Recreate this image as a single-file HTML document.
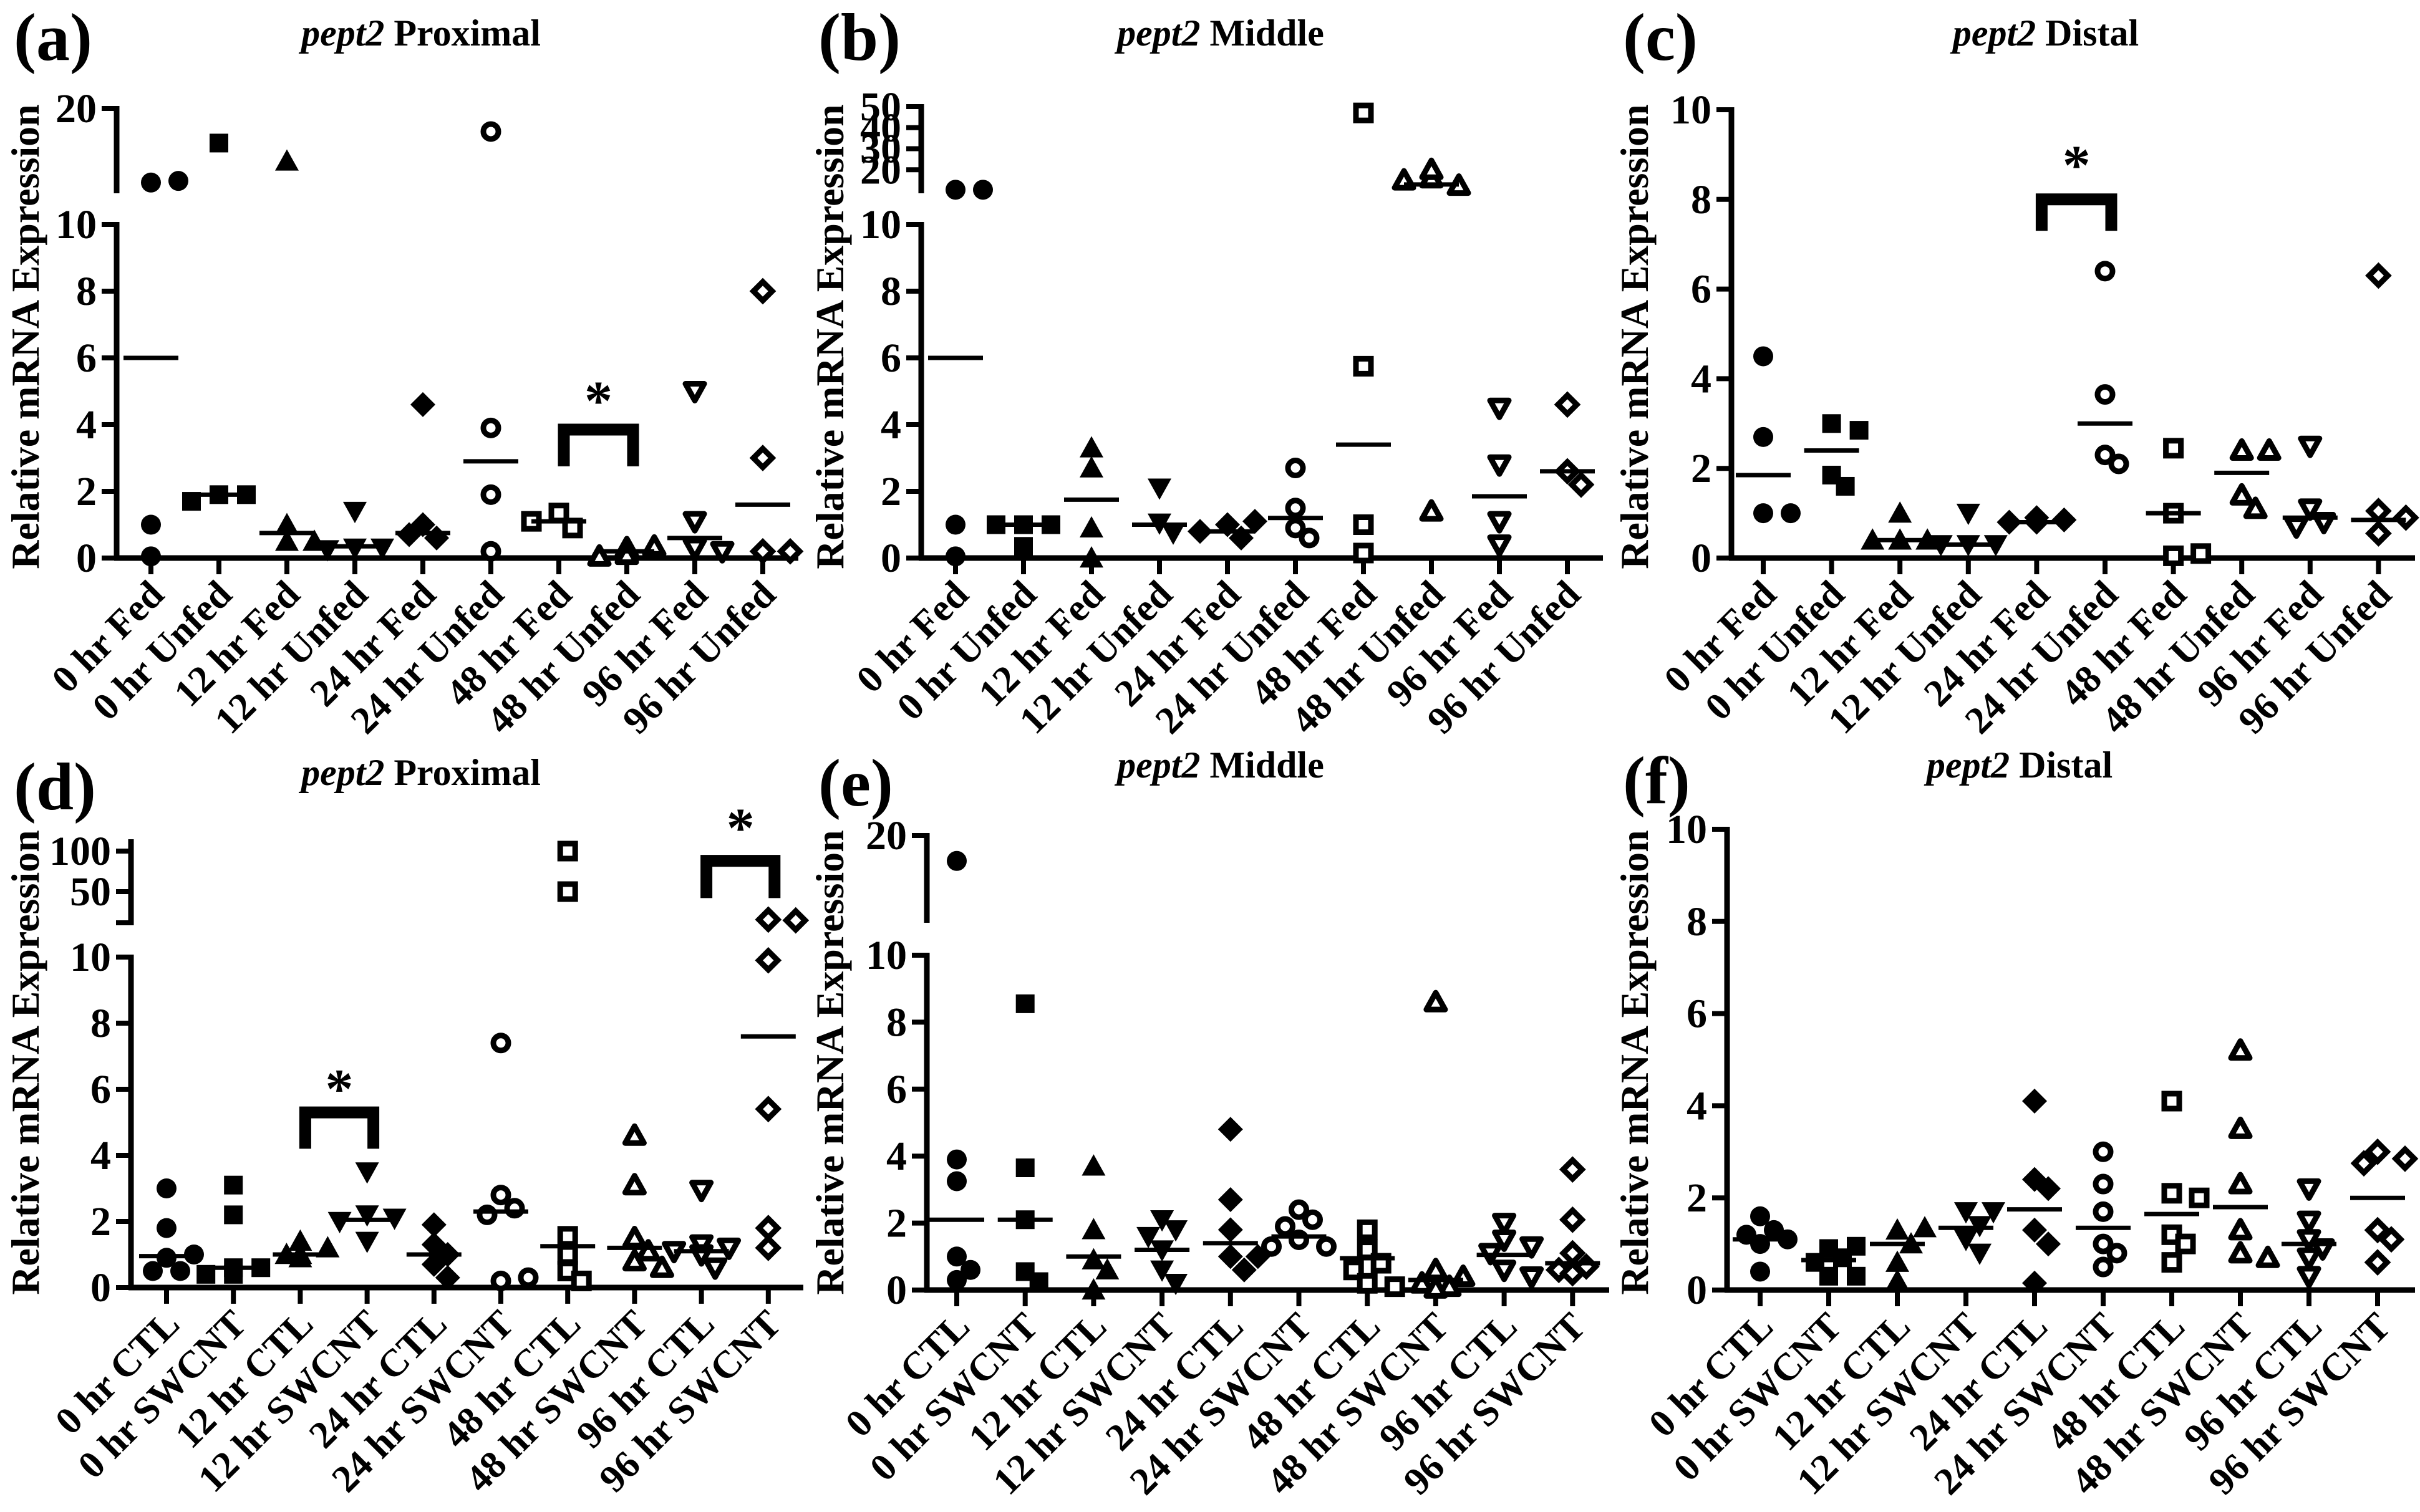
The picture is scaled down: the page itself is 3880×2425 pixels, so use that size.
<!DOCTYPE html>
<html><head><meta charset="utf-8">
<style>
html,body{margin:0;padding:0;background:#fff;}
svg{display:block;}
text{font-family:"Liberation Serif","Times New Roman",serif;font-weight:bold;fill:#000;}
</style></head>
<body>
<svg id="fig" xmlns="http://www.w3.org/2000/svg" width="3880" height="2425" viewBox="0 0 3880 2425"></svg>
<script>
// ---------- DATA ----------
const catsFed = ["0 hr Fed","0 hr Unfed","12 hr Fed","12 hr Unfed","24 hr Fed","24 hr Unfed","48 hr Fed","48 hr Unfed","96 hr Fed","96 hr Unfed"];
const catsSw = ["0 hr CTL","0 hr SWCNT","12 hr CTL","12 hr SWCNT","24 hr CTL","24 hr SWCNT","48 hr CTL","48 hr SWCNT","96 hr CTL","96 hr SWCNT"];
const lowerTicks = [0,2,4,6,8,10];

const aValues = [[11.0,11.2,1.0,0.05],[15.8,1.9,1.9,1.7],[13.6,1.0,0.5,0.5],[1.4,0.3,0.3,0.25],[4.6,1.0,0.6,0.7],[17.2,3.9,1.9,0.2],[1.35,0.9,1.1],[0.3,0.35,0.05,0.1],[5.0,1.1,0.3,0.2],[8.0,3.0,0.2,0.2]];
const aMeans = [6.0,1.9,0.75,0.35,0.75,2.9,1.1,0.2,0.6,1.6];
const aUpperTicks = [10,20];

const bValues = [[10.5,10.5,1.0,0.05],[1.0,1.0,1.0,0.35],[3.3,2.7,0.9,0.0],[2.1,1.05,0.75],[1.0,1.1,0.8,0.6],[2.7,1.5,0.9,0.6],[47,5.75,1.0,0.15],[16,12.5,15,20,1.4],[4.5,2.8,1.1,0.4],[4.6,2.6,2.2]];
const bMeans = [6.0,1.0,1.75,1.0,0.8,1.2,3.4,13,1.85,2.6];
const bUpperTicks = [10,20,30,40,50];

const cValues = [[4.5,2.7,1.0,1.0],[3.0,2.85,1.85,1.6],[1.0,0.4,0.4,0.4],[1.0,0.3,0.3,0.3],[0.9,0.85,0.8,0.8],[6.4,3.65,2.3,2.1],[2.45,1.0,0.05,0.1],[2.4,2.4,1.4,1.1],[2.5,1.1,0.8,0.7],[6.3,1.05,0.9,0.55]];
const cMeans = [1.85,2.4,0.4,0.3,0.8,3.0,1.0,1.9,0.9,0.85];

const dValues = [[3.0,1.8,0.9,1.0,0.5,0.5],[3.1,2.2,0.6,0.6,0.4,0.4],[1.4,1.2,1.0,1.0,0.9],[3.5,2.2,2.1,2.0,1.4],[1.9,1.3,1.0,0.7,0.3],[7.4,2.8,2.4,2.2,0.2,0.3],[100,50,1.55,1.0,0.5,0.2],[4.6,3.1,1.5,1.1,0.8,0.6],[2.95,1.3,1.2,1.1,1.0,0.6],[15.5,14.5,9.9,5.4,1.8,1.2]];
const dMeans = [0.95,0.6,1.0,2.05,1.0,2.3,1.25,1.2,1.1,7.6];
const dUpperTicks = [50,100];

const eValues = [[17,3.9,3.25,1.0,0.6,0.3],[8.55,3.65,2.1,0.55,0.25],[3.7,1.8,0.9,0.6,0.0],[2.1,1.8,1.6,1.2,0.6,0.2],[4.8,2.7,1.8,1.0,1.0,0.6],[2.4,2.1,1.9,1.5,1.3,1.3],[1.8,1.2,0.8,0.6,0.2,0.1],[8.6,0.6,0.4,0.2,0.1,0.05],[2.0,1.5,1.3,1.1,0.6,0.4],[3.6,2.1,1.1,0.7,0.6,0.5]];
const eMeans = [2.1,2.1,1.0,1.2,1.4,1.6,0.95,0.3,1.05,0.8];
const eUpperTicks = [10,20];

const fValues = [[1.6,1.3,1.2,1.1,1.0,0.4],[0.9,0.95,0.7,0.6,0.3,0.3],[1.3,1.35,1.0,0.6,0.2],[1.7,1.7,1.4,1.1,0.8],[4.1,2.4,2.2,1.3,1.0,0.15],[3.0,2.3,1.7,1.0,0.8,0.5],[4.1,2.1,2.0,1.2,1.0,0.6],[5.2,3.5,2.3,1.3,0.8,0.7],[2.2,1.5,1.1,0.9,0.7,0.3],[3.0,2.85,2.75,1.3,1.1,0.6]];
const fMeans = [1.1,0.65,1.0,1.35,1.75,1.35,1.65,1.8,1.0,2.0];

// significance brackets: [groupA, groupB, topValue, legValue, starValue]
const aSig = [[6,7,3.85,2.75,4.9]];
const cSig = [[4,5,8.0,7.3,8.9]];
const dSig = [[2,3,5.3,4.2,6.2],[8,9,88,42,136]];

const shapes = ["circle","square","triangle","tridown","diamond"];

// ---------- LAYOUT ----------
const panels = [
 {id:"a",letter:"(a)",title:"Proximal",ox:0,oy:0,ax:187,y0:895,y10:360,up:{v0:10,p0:306,v1:20,p1:174,top:174,bot:306,ticks:aUpperTicks},cat0:242,step:109,xEnd:1280,tx:675,ty:73,ly:96,yl:540,cats:catsFed,vals:aValues,means:aMeans,sig:aSig},
 {id:"b",letter:"(b)",title:"Middle",ox:1290,oy:0,ax:187,y0:895,y10:360,up:{v0:10,p0:306,v1:50,p1:171,top:171,bot:306,ticks:bUpperTicks},cat0:242,step:109,xEnd:1280,tx:667,ty:73,ly:96,yl:540,cats:catsFed,vals:bValues,means:bMeans,sig:[]},
 {id:"c",letter:"(c)",title:"Distal",ox:2580,oy:0,ax:196,y0:895,y10:176,up:null,cat0:247,step:109.6,xEnd:1292,tx:700,ty:73,ly:96,yl:540,cats:catsFed,vals:cValues,means:cMeans,sig:cSig},
 {id:"d",letter:"(d)",title:"Proximal",ox:0,oy:1200,ax:210,y0:865,y10:335,up:{v0:50,p0:230,v1:100,p1:165,top:150,bot:280,ticks:dUpperTicks},cat0:267,step:107.2,xEnd:1288,tx:675,ty:59,ly:98,yl:504,cats:catsSw,vals:dValues,means:dMeans,sig:dSig},
 {id:"e",letter:"(e)",title:"Middle",ox:1290,oy:1200,ax:196,y0:869,y10:332,up:{v0:10,p0:276,v1:20,p1:140,top:140,bot:276,ticks:eUpperTicks},cat0:244,step:109.7,xEnd:1290,tx:667,ty:47,ly:92,yl:504,cats:catsSw,vals:eValues,means:eMeans,sig:[]},
 {id:"f",letter:"(f)",title:"Distal",ox:2580,oy:1200,ax:189,y0:869,y10:130,up:null,cat0:242,step:110,xEnd:1292,tx:658,ty:47,ly:88,yl:504,cats:catsSw,vals:fValues,means:fMeans,sig:[]}
];

const NS="http://www.w3.org/2000/svg";
const svg=document.getElementById("fig");
function mk(tag,attrs,parent){const e=document.createElementNS(NS,tag);for(const k in attrs)e.setAttribute(k,attrs[k]);(parent||svg).appendChild(e);return e;}

function yScale(p,v){
  if(v<=10 || !p.up) return p.y0-(p.y0-p.y10)*v/10;
  const u=p.up; return u.p0+(v-u.v0)*(u.p1-u.p0)/(u.v1-u.v0);
}
function xScale(p,i){return p.cat0+i*p.step;}

function marker(g,shape,filled,x,y){
  const sw=filled?0:9, fill=filled?"#000":"#fff", st="#000";
  let el;
  if(shape==="circle"){el=mk("circle",{cx:x,cy:y,r:filled?16:12,fill:fill,stroke:st,"stroke-width":sw},g);}
  else if(shape==="square"){const s=filled?30:24;el=mk("rect",{x:x-s/2,y:y-s/2,width:s,height:s,fill:fill,stroke:st,"stroke-width":sw},g);}
  else if(shape==="triangle"){const s=filled?19:15;el=mk("polygon",{points:`${x},${y-s} ${x+s},${y+s*0.8} ${x-s},${y+s*0.8}`,fill:fill,stroke:st,"stroke-width":sw,"stroke-linejoin":"round"},g);}
  else if(shape==="tridown"){const s=filled?19:15;el=mk("polygon",{points:`${x},${y+s} ${x+s},${y-s*0.8} ${x-s},${y-s*0.8}`,fill:fill,stroke:st,"stroke-width":sw,"stroke-linejoin":"round"},g);}
  else {const s=filled?20:15;el=mk("polygon",{points:`${x},${y-s} ${x+s},${y} ${x},${y+s} ${x-s},${y}`,fill:fill,stroke:st,"stroke-width":sw},g);}
  return el;
}

panels.forEach(p=>{
  const g=mk("g",{transform:`translate(${p.ox},${p.oy})`});
  
  

  const L=mk("text",{x:22,y:p.ly,"font-size":108},g); L.textContent=p.letter;
  
  

  const T=mk("text",{x:p.tx,y:p.ty,"font-size":60,"text-anchor":"middle"},g);
  
  
  const ti=mk("tspan",{"font-style":"italic"},T); ti.textContent="pept2";
  const tr=mk("tspan",{},T); tr.textContent=" "+p.title;

  const YL=mk("text",{x:0,y:0,"font-size":64,"text-anchor":"middle",transform:`translate(62,${p.yl}) rotate(-90)`},g);
  YL.textContent="Relative mRNA Expression";
  
  

  const ya=mk("line",{x1:p.ax,y1:p.y0+4,x2:p.ax,y2:p.y10-4,stroke:"#000","stroke-width":9},g);
  
  
  lowerTicks.forEach(t=>{
    const y=yScale(p,t);
    mk("line",{x1:p.ax-24,y1:y,x2:p.ax,y2:y,stroke:"#000","stroke-width":8},g);
    const tl=mk("text",{x:p.ax-32,y:y+22,"font-size":66,"text-anchor":"end"},g); tl.textContent=t;
    
    
  });
  if(p.up){
    const u=p.up;
    const ua=mk("line",{x1:p.ax,y1:u.bot+4,x2:p.ax,y2:u.top-4,stroke:"#000","stroke-width":9},g);
    
    
    if(u.ticks.indexOf(u.v0)<0 || yScale(p,u.ticks[0])<u.bot-10){
      mk("line",{x1:p.ax-24,y1:u.bot,x2:p.ax,y2:u.bot,stroke:"#000","stroke-width":8},g);
    }
    u.ticks.forEach(t=>{
      const y=yScale(p,t);
      mk("line",{x1:p.ax-24,y1:y,x2:p.ax,y2:y,stroke:"#000","stroke-width":8},g);
      const tl=mk("text",{x:p.ax-32,y:y+22,"font-size":66,"text-anchor":"end"},g); tl.textContent=t;
      
      
    });
  }
  const xa=mk("line",{x1:p.ax-4,y1:p.y0,x2:p.xEnd,y2:p.y0,stroke:"#000","stroke-width":9},g);
  
  
  p.cats.forEach((c,i)=>{
    const x=xScale(p,i);
    mk("line",{x1:x,y1:p.y0,x2:x,y2:p.y0+26,stroke:"#000","stroke-width":8},g);
    const cl=mk("text",{x:0,y:0,"font-size":62,"text-anchor":"end",transform:`translate(${x+24},${p.y0+62}) rotate(-45)`},g);
    cl.textContent=c;
    
    
  });
  p.vals.forEach((arr,i)=>{
    const cx=xScale(p,i), shape=shapes[i%5], filled=i<5;
    const placed=[];
    const offs=[0,22,-22,44,-44,11,-11];
    arr.forEach(v=>{
      const y=yScale(p,v);
      let ox=0;
      for(const o of offs){ if(!placed.some(q=>Math.hypot(q[0]-o,q[1]-y)<26)){ox=o;break;} }
      placed.push([ox,y]);
      const m=marker(g,shape,filled,cx+ox,y);
      
      
    });
    const my=yScale(p,p.means[i]);
    const ml=mk("line",{x1:cx-44,y1:my,x2:cx+44,y2:my,stroke:"#000","stroke-width":7},g);
    
    
  });
  p.sig.forEach(s=>{
    const xl=xScale(p,s[0])+8, xr=xScale(p,s[1])+10;
    const yt=yScale(p,s[2]), yl=yScale(p,s[3]);
    const br=mk("path",{d:`M${xl},${yl} V${yt} H${xr} V${yl}`,fill:"none",stroke:"#000","stroke-width":19},g);
    
    
    const st=mk("text",{x:(xl+xr)/2,y:yScale(p,s[4])+40,"font-size":90,"text-anchor":"middle"},g);
    st.textContent="*";
    
    
  });
});
</script>
</body></html>
